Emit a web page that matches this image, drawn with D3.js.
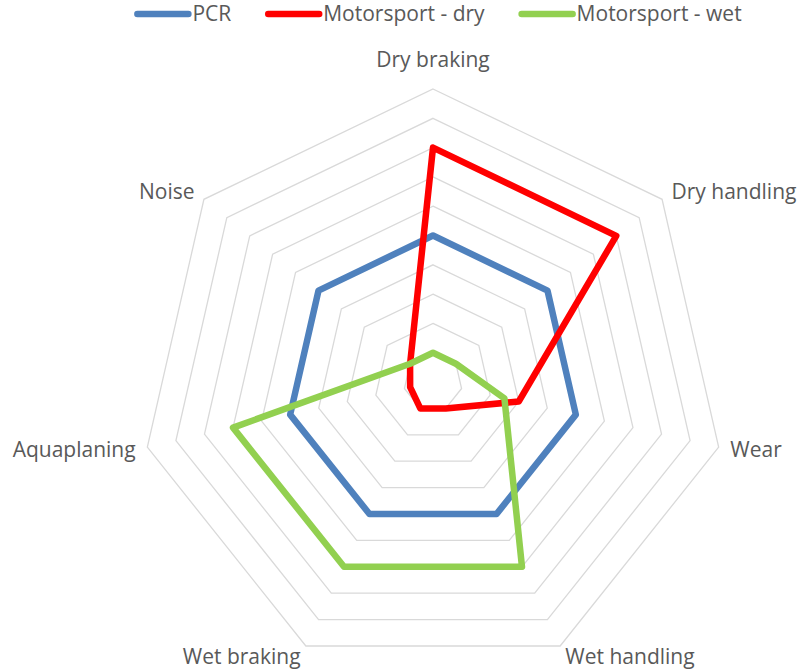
<!DOCTYPE html>
<html lang="en">
	<head>
		<meta charset="utf-8">
		<title>Tyre performance radar</title>
		<script type="text/javascript" src="https://d3js.org/d3.v7.min.js"></script>
		<style type="text/css">
			body {
				margin: 0;
				background: #ffffff;
			}
			text {
				font-family: "Open Sans", sans-serif;
				fill: #595959;
			}
		</style>
	</head>
	<body>
		<script type="text/javascript">
			// axes, clockwise from the top
			var axes = ["Dry braking", "Dry handling", "Wear", "Wet handling", "Wet braking", "Aquaplaning", "Noise"];
			var seriesNames = ["PCR", "Motorsport - dry", "Motorsport - wet"];
			var pcr = [5, 5, 5, 5, 5, 5, 5];
			var motorDry = [8, 8, 3, 1, 1, 0.8, 1];
			var motorWet = [1, 1, 2.5, 7, 7, 7, 1];
			var gridLevels = [1, 2, 3, 4, 5, 6, 7, 8, 9, 10];
			var colors = ["#4F81BD", "#FF0000", "#92D050"];

			var w = 800;
			var h = 672;
			var cx = 433;
			var cy = 382;
			var R = 293;
			var fontSize = "21px";

			var svg = d3.select("body")
						.append("svg")
						.attr("width", w)
						.attr("height", h);

			var rScale = d3.scaleLinear().domain([0, 10]).range([0, R]);
			var angle = d3.scalePoint().domain(d3.range(axes.length + 1)).range([0, 2 * Math.PI]);

			function point(i, v) {
				var a = angle(i);
				return [cx + rScale(v) * Math.sin(a), cy - rScale(v) * Math.cos(a)];
			}

			var line = d3.line().curve(d3.curveLinearClosed);

			//grid heptagons
			svg.append("g")
			   .selectAll("path")
			   .data(gridLevels)
			   .enter()
			   .append("path")
			   .attr("d", function(lv) {
			   		return line(axes.map(function(a, i) { return point(i, lv); }));
			   })
			   .attr("fill", "none")
			   .attr("stroke", "#D9D9D9")
			   .attr("stroke-width", 1.3);

			//axis labels
			svg.append("g")
			   .selectAll("text")
			   .data(axes)
			   .enter()
			   .append("text")
			   .text(function(d) { return d; })
			   .attr("font-size", fontSize)
			   .attr("dy", "0.35em")
			   .each(function(d, i) {
			   		var a = angle(i);
			   		var s = Math.sin(a);
			   		var p = point(i, 10 + 12 / rScale(1));
			   		var anchor = Math.abs(s) < 0.01 ? "middle" : (s > 0 ? "start" : "end");
			   		if(anchor == "middle") p[1] -= 17;
			   		d3.select(this)
			   		  .attr("x", p[0])
			   		  .attr("y", p[1])
			   		  .attr("text-anchor", anchor);
			   });

			//series lines
			var allSeries = [pcr, motorDry, motorWet];
			svg.append("g")
			   .selectAll("path")
			   .data(allSeries)
			   .enter()
			   .append("path")
			   .attr("d", function(vals) {
			   		return line(vals.map(function(v, i) { return point(i, v); }));
			   })
			   .attr("fill", "none")
			   .attr("stroke", function(d, i) { return colors[i]; })
			   .attr("stroke-width", 6.5)
			   .attr("stroke-linejoin", "round");

			//legend
			var legend = svg.append("g");
			var lx = 0;
			seriesNames.forEach(function(name, i) {
				var item = legend.append("g").attr("transform", "translate(" + lx + ",0)");
				item.append("line")
					.attr("x1", 3).attr("x2", 54)
					.attr("y1", 14).attr("y2", 14)
					.attr("stroke", colors[i])
					.attr("stroke-width", 6.5)
					.attr("stroke-linecap", "round");
				var t = item.append("text")
					.attr("x", 58)
					.attr("y", 14)
					.attr("dy", "0.35em")
					.attr("font-size", fontSize)
					.text(name);
				lx += 58 + t.node().getComputedTextLength() + 34;
			});
			var legendWidth = lx - 34;
			legend.attr("transform", "translate(" + (438 - legendWidth / 2) + ",0)");
		</script>
	</body>
</html>
